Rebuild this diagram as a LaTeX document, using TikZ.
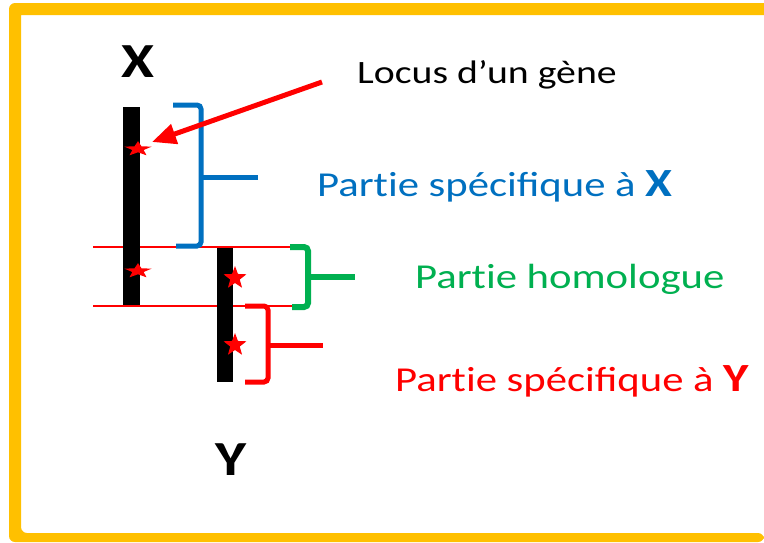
\documentclass[tikz,border=0pt]{standalone}
\usepackage{fontspec}
\setmainfont[FakeStretch=1.22]{Carlito}
\usetikzlibrary{shapes.geometric,arrows.meta}
\definecolor{ybord}{RGB}{255,192,0}
\definecolor{bluex}{RGB}{0,112,192}
\definecolor{greenh}{RGB}{0,176,80}
\definecolor{redy}{RGB}{255,0,0}
\newcommand\partword{Part\kern0pt ie}
\begin{document}
\begin{tikzpicture}[x=1pt,y=-1pt,
  chrom/.style={fill=black,draw=none},
  gstar/.style={star,star points=5,star point ratio=2.4,fill=redy,draw=none,inner sep=0pt,minimum size=24pt},
  flatstar/.style={gstar,transform shape,xscale=1.2,yscale=0.65},
  brack/.style={line width=5pt,rounded corners=4pt},
  guide/.style={redy,line width=1.5pt},
  lbl/.style={inner sep=0pt,anchor=base west}]
\fill[white] (0,0) rectangle (764,542);
% yellow frame (open on the right)
\fill[ybord,rounded corners=6pt] (764,3) -- (9,3) -- (9,542) -- (764,542) -- (764,533) -- (21,533) [sharp corners] -- (21,15) -- (764,15) -- cycle;
% guide lines
\coordinate (g1a) at (93,247); \coordinate (g1b) at (291,247);
\coordinate (g2a) at (93,306); \coordinate (g2b) at (292,306);
\draw[guide] (g1a) -- (g1b);
\draw[guide] (g2a) -- (g2b);
% chromosomes
\fill[chrom] (123,107) rectangle (140,305);
\fill[chrom] (217,248) rectangle (233,382);
% stars
\node[flatstar] (s1) at (138,149) {};
\node[flatstar] (s2) at (138,271) {};
\node[gstar] (s3) at (235,278) {};
\node[gstar] (s4) at (235,345) {};
% labels X, Y
\node[inner sep=0pt,anchor=base] (lx) at (137.5,77) {\fontsize{49}{49}\selectfont\bfseries X};
\node[inner sep=0pt,anchor=base] (ly) at (231,475) {\fontsize{49}{49}\selectfont\bfseries Y};
% blue bracket
\draw[brack,bluex] (173,105) -- (201,105) -- (201,246) -- (176,246);
\draw[brack,bluex] (201,177) -- (258,177);
% green bracket
\draw[brack,greenh,line width=6pt] (290,247) -- (308,247) -- (308,307) -- (292,307);
\draw[brack,greenh,line width=6pt] (308,277) -- (355,277);
% red bracket
\draw[brack,redy] (245,306) -- (268,306) -- (268,382) -- (245,382);
\draw[brack,redy] (268,345) -- (323,345);
% arrow
\coordinate (atail) at (322,82);
\coordinate (atip) at (152,142);
\draw[redy,line width=5pt,-{Triangle[length=24pt,width=20pt]}] (atail) -- (atip);
% texts
\node[lbl] (locus) at (357,83) {\fontsize{32.6}{33}\selectfont Locus d’un gène};
\node[lbl,text=bluex] (px) at (317,196) {\fontsize{35}{35}\selectfont \partword{} spécifique à {\fontsize{40}{40}\selectfont\bfseries X}};
\node[lbl,text=greenh] (ph) at (415,288) {\fontsize{35}{35}\selectfont \partword{} homologue};
\node[lbl,text=redy] (py) at (395,391) {\fontsize{35}{35}\selectfont \partword{} spécifique à {\fontsize{40}{40}\selectfont\bfseries Y}};
\end{tikzpicture}
\end{document}
